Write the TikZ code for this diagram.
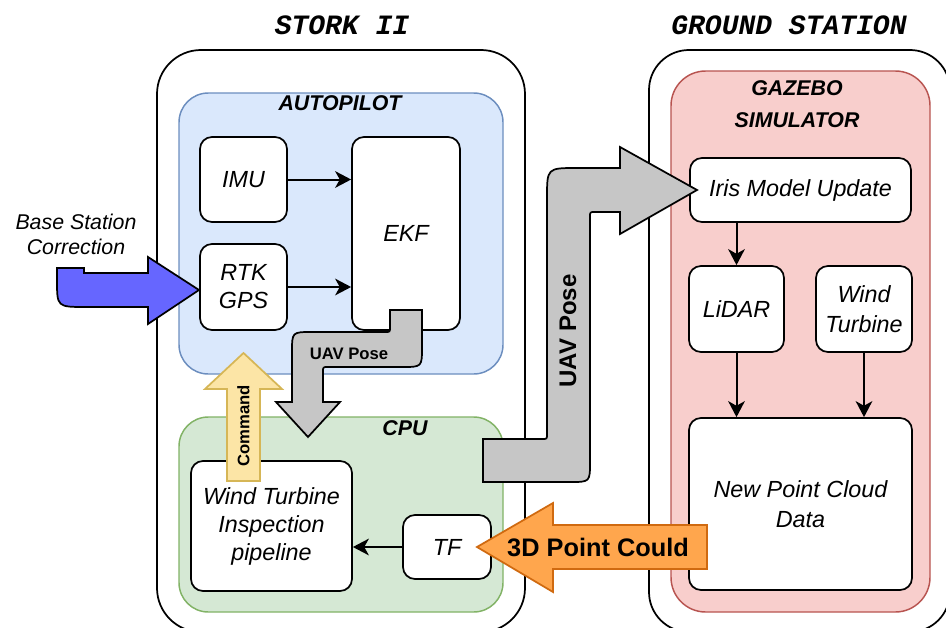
\documentclass[tikz,border=0pt]{standalone}
\usepackage{fontspec}
\setmainfont{Liberation Sans}
\newfontfamily\titlefont{Liberation Mono}
\usetikzlibrary{arrows.meta,fit}
\definecolor{apfill}{HTML}{DAE8FC}
\definecolor{apdraw}{HTML}{6C8EBF}
\definecolor{cpufill}{HTML}{D5E8D4}
\definecolor{cpudraw}{HTML}{82B366}
\definecolor{gzfill}{HTML}{F8CECC}
\definecolor{gzdraw}{HTML}{B85450}
\definecolor{grayarrow}{HTML}{C6C6C6}
\definecolor{bluearrow}{HTML}{6666FF}
\definecolor{orfill}{HTML}{FFA64D}
\definecolor{ordraw}{HTML}{D06A10}
\definecolor{ylfill}{HTML}{FCE5A6}
\definecolor{yldraw}{HTML}{D6B656}
\begin{document}
\begin{tikzpicture}[x=0.75pt,y=-0.75pt,
  outerbox/.style={draw=black,line width=1.3pt,rounded corners=33pt,inner sep=0pt,fill=white},
  cont/.style={line width=1.1pt,rounded corners=22pt,inner sep=0pt},
  box/.style={draw=black,fill=white,line width=1.3pt,rounded corners=9pt,inner sep=0pt,align=center,
    font=\fontsize{17.5pt}{21pt}\selectfont\itshape},
  contlabel/.style={font=\fontsize{16pt}{24pt}\selectfont\bfseries\itshape,align=center,inner sep=0pt},
  titlelabel/.style={font=\titlefont\fontsize{21pt}{25pt}\selectfont\bfseries\itshape,inner sep=0pt},
  conn/.style={draw=black,line width=1.5pt,-{Stealth[length=12pt,width=12.5pt,inset=3.5pt]}},
  bigarrow/.style={line width=1.3pt,line join=miter}
]
\useasboundingbox (0,0) rectangle (946,628);
\clip (0,0) rectangle (946,628);

% outer containers
\node[outerbox,fit={(157,50) (525,632)}] (stork) {};
\node[outerbox,rounded corners=30pt,fit={(649,50) (950,632)}] (ground) {};
\node[titlelabel] (storkt) at (342,25) {STORK II};
\node[titlelabel] (groundt) at (789,25) {GROUND STATION};

% inner containers
\node[cont,fill=apfill,draw=apdraw,fit={(179,93) (503,374)}] (autopilot) {};
\node[cont,fill=cpufill,draw=cpudraw,fit={(179,417) (503,612)}] (cpu) {};
\node[cont,fill=gzfill,draw=gzdraw,rounded corners=26pt,fit={(671,71) (930,612)}] (gazebo) {};
\node[contlabel] (autopilott) at (340,103) {AUTOPILOT};
\node[contlabel] (cput) at (405,428) {CPU};
\node[contlabel] (gazebot) at (797,104) {GAZEBO\\SIMULATOR};

% boxes
\node[box,fit={(200,137) (287,222)}] (imu) {};
\node[font=\fontsize{17.5pt}{21pt}\selectfont\itshape] (imut) at (imu.center) {IMU};
\node[box,fit={(200,244) (287,330)}] (rtk) {};
\node[font=\fontsize{17.5pt}{21pt}\selectfont\itshape,align=center] (rtkt) at (rtk.center) {RTK\\GPS};
\node[box,fit={(352,137) (460,330)}] (ekf) {};
\node[font=\fontsize{17.5pt}{21pt}\selectfont\itshape] (ekft) at (ekf.center) {EKF};
\node[box,fit={(191,461) (352,591)}] (wtip) {};
\node[font=\fontsize{17.5pt}{21pt}\selectfont\itshape,align=center] (wtipt) at (wtip.center) {Wind Turbine\\Inspection\\pipeline};
\node[box,fit={(403,515) (491,579)}] (tf) {};
\node[font=\fontsize{17.5pt}{21pt}\selectfont\itshape] (tft) at (tf.center) {TF};
\node[box,fit={(690,158) (911,222)}] (iris) {};
\node[font=\fontsize{17.5pt}{21pt}\selectfont\itshape] (irist) at (iris.center) {Iris Model Update};
\node[box,fit={(689,266) (784,352)}] (lidar) {};
\node[font=\fontsize{17.5pt}{21pt}\selectfont\itshape] (lidart) at (lidar.center) {LiDAR};
\node[box,fit={(816,266) (912,352)}] (wt) {};
\node[font=\fontsize{17.5pt}{22.5pt}\selectfont\itshape,align=center] (wtt) at (wt.center) {Wind\\Turbine};
\node[box,fit={(689,418) (912,590)}] (npcd) {};
\node[font=\fontsize{17.5pt}{22.5pt}\selectfont\itshape,align=center] (npcdt) at (npcd.center) {New Point Cloud\\Data};

% base station text
\node[font=\fontsize{16pt}{18.75pt}\selectfont\itshape,align=center] (base) at (76,234) {Base Station\\Correction};

% connectors
\draw[conn] (imu.east) -- (imu.east -| ekf.west);
\draw[conn] (rtk.east) -- (rtk.east -| ekf.west);
\draw[conn] (tf.west) -- (tf.west -| wtip.east);
\draw[conn] (lidar.north |- iris.south) -- (lidar.north);
\draw[conn] (lidar.south) -- (lidar.south |- npcd.north);
\draw[conn] (wt.south) -- (wt.south |- npcd.north);

% blue base station arrow
\draw[bigarrow,fill=bluearrow,draw=black]
  (57,268) -- (84,268) -- (84,273) -- (148,273) -- (148,257) -- (199,290) -- (148,324) -- (148,307)
  -- (86,307) .. controls (57,307) .. (57,280) -- cycle;

% small UAV pose arrow
\draw[bigarrow,fill=grayarrow,draw=black]
  (390,310) -- (422,310) -- (422,347) .. controls (422,367) .. (402,367) -- (328,367)
  .. controls (323,367) .. (323,372) -- (323,402) -- (340,402) -- (308,437) -- (276,402)
  -- (292,402) -- (292,352) .. controls (292,332) .. (312,332) -- (385,332)
  .. controls (390,332) .. (390,327) -- cycle;
\node[font=\fontsize{12.5pt}{14pt}\selectfont\bfseries,inner sep=0pt] (uavs) at (349,354) {UAV Pose};

% command arrow
\draw[bigarrow,fill=ylfill,draw=yldraw]
  (227,481) -- (227,389) -- (205,389) -- (243.5,353) -- (282,389) -- (260,389) -- (260,481) -- cycle;
\node[font=\fontsize{12.5pt}{14pt}\selectfont\bfseries,inner sep=0pt,rotate=90] (cmd) at (243.5,426) {Command};

% big UAV pose arrow
\draw[bigarrow,fill=grayarrow,draw=black]
  (483,439) -- (542,439) .. controls (547,439) .. (547,434) -- (547,198) .. controls (547,168) .. (577,168)
  -- (620,168) -- (620,147) -- (697,190) -- (620,234) -- (620,212) -- (595,212)
  .. controls (590,212) .. (590,217) -- (590,462) .. controls (590,482) .. (570,482) -- (483,482) -- cycle;
\node[font=\fontsize{18pt}{22pt}\selectfont\bfseries,inner sep=0pt,rotate=90] (uavb) at (568,331) {UAV Pose};

% 3D point cloud arrow
\draw[bigarrow,fill=orfill,draw=ordraw]
  (707,525) -- (553,525) -- (553,503) -- (477,547) -- (553,592) -- (553,569) -- (707,569) -- cycle;
\node[font=\fontsize{19pt}{22pt}\selectfont\bfseries,inner sep=0pt] (pc) at (598,547) {3D Point Could};
\end{tikzpicture}
\end{document}
